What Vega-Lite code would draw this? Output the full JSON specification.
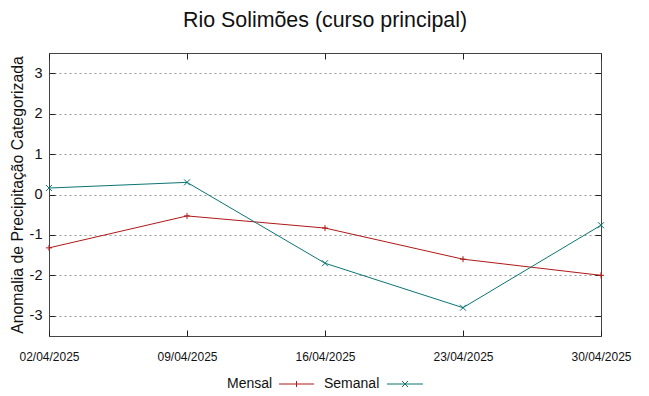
{
  "$schema": "https://vega.github.io/schema/vega-lite/v6.json",
  "width": 552,
  "height": 283,
  "autosize": {"type": "none"},
  "padding": {"left": 49, "top": 53, "right": 48, "bottom": 60},
  "background": "white",
  "title": {"text": "Rio Solimões (curso principal)", "fontSize": 21.4, "font": "Liberation Sans", "fontWeight": "normal", "color": "#111", "offset": 21},
  "config": {
    "view": {"stroke": "#444", "strokeWidth": 1},
    "axis": {"labelFont": "Liberation Sans", "titleFont": "Liberation Sans", "labelColor": "#111", "titleColor": "#111", "domain": false, "tickColor": "#222"},
    "legend": {"labelFont": "Liberation Sans", "labelFontSize": 14, "labelColor": "#111", "labelOffset": 2, "symbolSize": 100, "symbolStrokeWidth": 1, "symbolFillColor": "transparent", "padding": 0, "orient": "none", "direction": "horizontal", "title": null}
  },
  "data": {"values": [
    {"date": "02/04/2025", "series": "Mensal", "value": -1.32},
    {"date": "09/04/2025", "series": "Mensal", "value": -0.53},
    {"date": "16/04/2025", "series": "Mensal", "value": -0.83},
    {"date": "23/04/2025", "series": "Mensal", "value": -1.60},
    {"date": "30/04/2025", "series": "Mensal", "value": -2.00},
    {"date": "02/04/2025", "series": "Semanal", "value": 0.16},
    {"date": "09/04/2025", "series": "Semanal", "value": 0.30},
    {"date": "16/04/2025", "series": "Semanal", "value": -1.70},
    {"date": "23/04/2025", "series": "Semanal", "value": -2.80},
    {"date": "30/04/2025", "series": "Semanal", "value": -0.76}
  ]},
  "resolve": {"axis": {"x": "independent", "y": "independent"}, "scale": {"color": "independent"}},
  "layer": [
    {
      "transform": [{"filter": "datum.series === 'Mensal'"}],
      "mark": {"type": "line", "strokeWidth": 1},
      "encoding": {
        "x": {"field": "date", "type": "ordinal", "scale": {"type": "point", "padding": 0},
          "axis": {"title": null, "labelAngle": 0, "labelFontSize": 12, "tickSize": -6, "labelPadding": 21, "labelDx": 7, "grid": false}},
        "y": {"field": "value", "type": "quantitative", "scale": {"domain": [-3.5, 3.5], "nice": false, "zero": false},
          "axis": {"title": "Anomalia de Precipitação Categorizada", "titleFontSize": 15.8, "titleFontWeight": "normal", "labelFontSize": 14.5, "labelExpr": "'' + datum.value", "values": [-3, -2, -1, 0, 1, 2, 3], "tickSize": -6, "labelPadding": 13, "grid": true, "gridDash": [2, 3], "gridColor": "#999", "titlePadding": 4}},
        "color": {"field": "series", "type": "nominal",
          "scale": {"domain": ["Mensal"], "range": ["#b01818"]},
          "legend": {"legendX": 162, "legendY": 324, "symbolType": "M12.2,0H19.2M15.7,-0.6V0.6"}
        }
      }
    },
    {
      "transform": [{"filter": "datum.series === 'Semanal'"}],
      "mark": {"type": "line", "strokeWidth": 1},
      "encoding": {
        "x": {"field": "date", "type": "ordinal", "axis": null},
        "y": {"field": "value", "type": "quantitative", "axis": null},
        "color": {"field": "series", "type": "nominal",
          "scale": {"domain": ["Semanal"], "range": ["#0b7474"]},
          "legend": {"legendX": 259, "legendY": 324, "symbolType": "M14.4,0H21.6M17.4,-0.6L18.6,0.6M17.4,0.6L18.6,-0.6"}
        }
      }
    },
    {
      "mark": {"type": "point", "filled": false, "strokeWidth": 1, "size": 36, "opacity": 1},
      "encoding": {
        "x": {"field": "date", "type": "ordinal", "axis": null},
        "y": {"field": "value", "type": "quantitative", "axis": null},
        "color": {"field": "series", "type": "nominal", "scale": {"domain": ["Mensal", "Semanal"], "range": ["#b01818", "#0b7474"]}, "legend": null},
        "shape": {"field": "series", "type": "nominal", "scale": {"domain": ["Mensal", "Semanal"], "range": ["M-1,0H1M0,-1V1", "M-1,-1L1,1M-1,1L1,-1"]}, "legend": null}
      }
    },
    {
      "mark": {"type": "point", "opacity": 0},
      "encoding": {
        "x": {"field": "date", "type": "ordinal", "axis": {"orient": "top", "labels": false, "title": null, "tickSize": -6, "grid": false}},
        "y": {"field": "value", "type": "quantitative", "axis": {"orient": "right", "labels": false, "title": null, "values": [-3, -2, -1, 0, 1, 2, 3], "tickSize": -6, "grid": false}}
      }
    }
  ]
}
